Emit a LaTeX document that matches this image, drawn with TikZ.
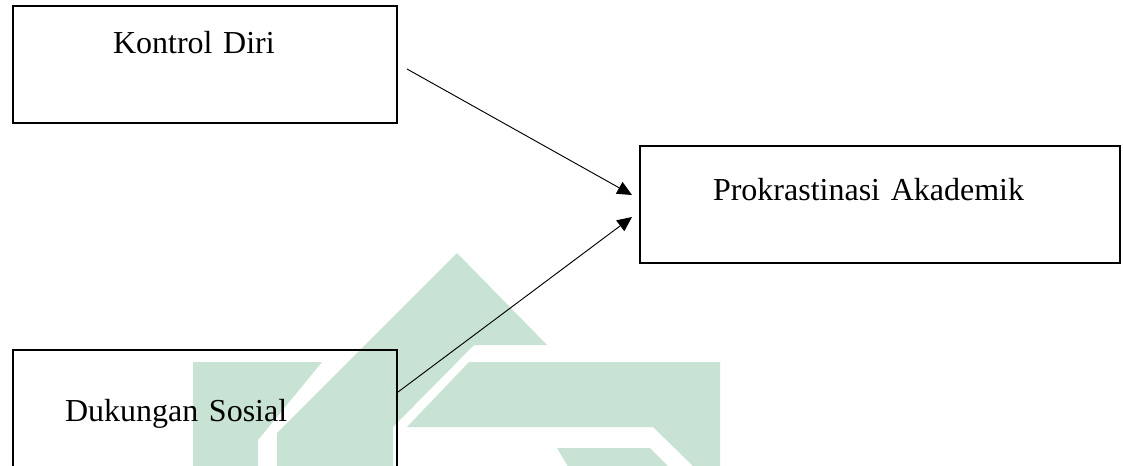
\documentclass[tikz,border=0pt]{standalone}
\usepackage{fontspec}
\setmainfont{Liberation Serif}
\usepackage{tikz}
\usetikzlibrary{positioning}
\usetikzlibrary{calc,arrows.meta}

\definecolor{logogreen}{RGB}{200,226,211}

\begin{document}
\begin{tikzpicture}[x=0.75pt,y=-0.75pt,on grid]

	\tikzstyle{varbox}=[rectangle,draw=black,line width=1.5pt,inner ysep=0pt,align=left,
	font=\fontsize{24}{28}\selectfont]
	\tikzstyle{logo}=[fill=logogreen,draw=none]
	\tikzstyle{link}=[line width=0.7pt,-{Triangle[length=11pt,width=10pt]}]

	\useasboundingbox (0,0) rectangle (1123,465);

	\fill[logo] (193,362) -- (322,362) -- (258,440) -- (258,470) -- (193,470) -- cycle;
	\fill[logo] (457,253) -- (547,345) -- (474,345) -- (393,427) -- (393,470) -- (277,470) -- (277,433) -- cycle;
	\fill[logo] (469,362) -- (720,362) -- (720,470) -- (697,470) -- (653,427) -- (407,427) -- cycle;
	\fill[logo] (557,448) -- (650,448) -- (672,470) -- (570,470) -- cycle;

	\node [varbox,inner xsep=75pt,text width=138pt,text height=35.25pt,text depth=52.5pt] (kd) at (205,64.5) {Kontrol Diri};
	\node [varbox,inner xsep=54.75pt,text width=250.5pt,text height=40.5pt,text depth=47.25pt] (pa) [below right=105pt and 506.25pt of kd] {Prokrastinasi Akademik};
	\node [varbox,inner xsep=39pt,text width=210pt,text height=53.25pt,text depth=44.25pt] (ds) [below=262.875pt of kd] {Dukungan Sosial};

	\draw[link] ($(kd.east)+(9,4.5)$) -- ($(pa.west)+(-7,-9.5)$);
	\draw[link] ($(ds.east)+(0,-23)$) -- ($(pa.west)+(-7,12.5)$);

\end{tikzpicture}
\end{document}
